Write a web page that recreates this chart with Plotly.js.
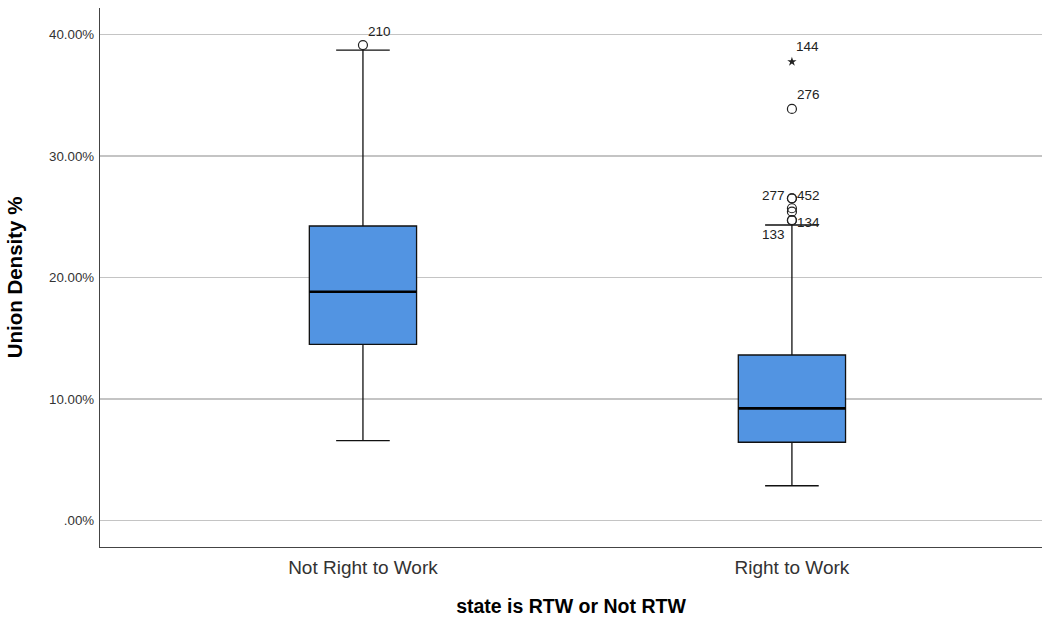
<!DOCTYPE html>
<html>
<head>
<meta charset="utf-8">
<script src="https://cdn.plot.ly/plotly-3.0.1.min.js"></script>
<style>html,body{margin:0;padding:0;background:#fff;}#chart{width:1042px;height:621px;}</style>
</head>
<body>
<div id="chart"></div>
<script>
// Categories and box statistics (Union Density %)
const categories = ["Not Right to Work", "Right to Work"];
const q1Values = [14.50, 6.44];
const medianValues = [18.83, 9.23];
const q3Values = [24.24, 13.62];
const lowerWhisker = [6.57, 2.86];
const upperWhisker = [38.72, 24.32];

// Outliers (circles)
const outlierGroup = [0, 1, 1, 1, 1, 1, 1, 1];
const outlierValues = [39.13, 33.87, 26.52, 26.52, 25.70, 25.42, 24.73, 24.70];
const outlierLabels = ["210", "276", "277", "452", "", "", "134", "133"];

// Extreme values (stars)
const extremeGroup = [1];
const extremeValues = [37.76];
const extremeLabels = ["144"];

const yTickVals = [0, 10, 20, 30, 40];
const yTickText = [".00%", "10.00%", "20.00%", "30.00%", "40.00%"];

// label placement style (pixel offsets), keyed by label
const labelStyle = {
  "210": {anchor: "left", dx: 3, dy: 14},
  "276": {anchor: "left", dx: 3, dy: 14},
  "144": {anchor: "left", dx: 2, dy: 15},
  "277": {anchor: "right", dx: -5, dy: 3},
  "452": {anchor: "left", dx: 3, dy: 3},
  "134": {anchor: "left", dx: 3, dy: -2},
  "133": {anchor: "right", dx: -5, dy: -14}
};

const boxWidth = 0.25;
const positions = categories.map((c, i) => i);
const font = "Liberation Sans, Arial, sans-serif";

const traces = [];
traces.push({
  type: "box",
  x: positions,
  q1: q1Values,
  median: medianValues,
  q3: q3Values,
  lowerfence: lowerWhisker,
  upperfence: upperWhisker,
  boxpoints: false,
  width: boxWidth,
  whiskerwidth: 0.5,
  fillcolor: "#5294e2",
  line: {color: "#111", width: 1.3},
  hoverinfo: "skip",
  showlegend: false
});

// thicker median line
const mx = [], my = [];
positions.forEach((p, i) => {
  mx.push(p - boxWidth / 2, p + boxWidth / 2, null);
  my.push(medianValues[i], medianValues[i], null);
});
traces.push({
  type: "scatter", mode: "lines", x: mx, y: my,
  line: {color: "#000", width: 2.6},
  hoverinfo: "skip", showlegend: false
});

traces.push({
  type: "scatter", mode: "markers",
  x: outlierGroup, y: outlierValues,
  marker: {symbol: "circle-open", size: 9, color: "#222", line: {width: 1.2, color: "#222"}},
  hoverinfo: "skip", showlegend: false, cliponaxis: false
});

traces.push({
  type: "scatter", mode: "markers",
  x: extremeGroup, y: extremeValues,
  marker: {symbol: "star", size: 7, color: "#222"},
  hoverinfo: "skip", showlegend: false, cliponaxis: false
});

const annotations = [];
function addLabels(xs, ys, labels) {
  labels.forEach((t, i) => {
    if (!t) return;
    const s = labelStyle[t];
    annotations.push({
      x: xs[i], y: ys[i], xref: "x", yref: "y", text: t, showarrow: false,
      xanchor: s.anchor, yanchor: "middle", xshift: s.dx, yshift: s.dy,
      font: {family: font, size: 13.5, color: "#222"}
    });
  });
}
addLabels(outlierGroup, outlierValues, outlierLabels);
addLabels(extremeGroup, extremeValues, extremeLabels);

const layout = {
  width: 1042, height: 621,
  margin: {l: 100, r: 0, t: 8, b: 74},
  paper_bgcolor: "#fff", plot_bgcolor: "#fff",
  showlegend: false,
  annotations: annotations,
  xaxis: {
    range: [-0.613, 1.583],
    tickvals: positions,
    ticktext: categories,
    showgrid: false, zeroline: false,
    showline: true, linecolor: "#444", linewidth: 1.2,
    ticks: "", ticklabelstandoff: 3,
    tickfont: {family: font, size: 19, color: "#333"},
    title: {text: "state is RTW or Not RTW", standoff: 22,
      font: {family: font, size: 19.5, color: "#000", weight: "bold"}}
  },
  yaxis: {
    range: [-2.18, 42.18],
    tickvals: yTickVals, ticktext: yTickText,
    showgrid: true, gridcolor: "#c4c4c4", gridwidth: 1.5,
    zeroline: false,
    showline: true, linecolor: "#444", linewidth: 1.2,
    ticks: "", ticklabelstandoff: 2,
    tickfont: {family: font, size: 13.3, color: "#333"},
    title: {text: "Union Density %", standoff: 20,
      font: {family: font, size: 20.5, color: "#000", weight: "bold"}}
  }
};

Plotly.newPlot("chart", traces, layout, {staticPlot: true, displayModeBar: false});
</script>
</body>
</html>
